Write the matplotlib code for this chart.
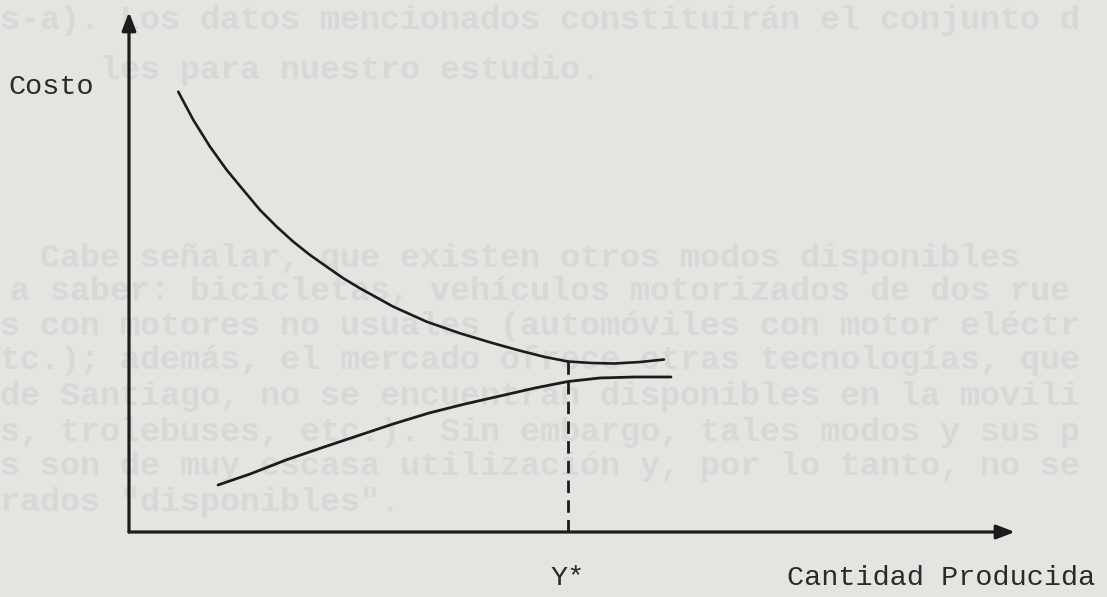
import matplotlib
matplotlib.use("Agg")
import matplotlib.pyplot as plt

# curva superior (costo medio) y curva inferior, leidas a mano
sup_x = [0.556, 0.726, 0.914, 1.103, 1.290, 1.479, 1.667, 1.854, 2.043, 2.231, 2.419,
         2.607, 2.983, 3.360, 3.736, 4.112, 4.413, 4.695, 4.955, 5.226, 5.474, 5.767, 6.038]
sup_y = [8.467, 7.923, 7.410, 6.962, 6.577, 6.192, 5.871, 5.583, 5.327, 5.102, 4.879,
         4.687, 4.333, 4.044, 3.821, 3.629, 3.487, 3.365, 3.279, 3.250, 3.240, 3.269, 3.317]

inf_x = [1.005, 1.366, 1.772, 2.167, 2.573, 2.980, 3.386, 3.792, 4.187, 4.582, 4.955,
         5.316, 5.711, 6.117]
inf_y = [0.904, 1.115, 1.385, 1.615, 1.846, 2.077, 2.288, 2.462, 2.615, 2.769, 2.894,
         2.962, 2.981, 2.981]

y_opt = 4.955         # Y*
costo_opt = 3.279     # costo en Y*

# texto del reverso de la hoja que se trasluce
reverso = [
    (0, 20, "s-a). Los datos mencionados constituirán el conjunto d"),
    (100, 70, "les para nuestro estudio."),
    (40, 258, "Cabe señalar, que existen otros modos disponibles"),
    (10, 291, "a saber: bicicletas, vehículos motorizados de dos rue"),
    (0, 326, "s con motores no usuales (automóviles con motor eléctr"),
    (0, 361, "tc.); además, el mercado ofrece otras tecnologías, que"),
    (0, 397, "de Santiago, no se encuentran disponibles en la movili"),
    (0, 432, "s, trolebuses, etc.). Sin embargo, tales modos y sus p"),
    (0, 467, "s son de muy escasa utilización y, por lo tanto, no se"),
    (0, 503, 'rados "disponibles".'),
]

tinta = "#1c1c1c"
papel = "#e3e5e1"

fig = plt.figure(figsize=(11.07, 5.97), dpi=100, facecolor=papel)
for px, py, linea in reverso:
    fig.text(px / 1107, 1 - py / 597, linea, family="Liberation Mono",
             fontsize=24, weight="bold", color="#d6d9d5", va="center", ha="left",
             zorder=-5)

ax = fig.add_axes([0, 0, 1, 1])
ax.set_facecolor("none")
ax.set_xlim(-129 / 88.6, (1107 - 129) / 88.6)
ax.set_ylim(-(597 - 532) / 52, 532 / 52)
ax.axis("off")

# ejes con flecha
flecha = dict(arrowstyle="-|>,head_length=1.1,head_width=0.42", lw=2.3,
              color=tinta, shrinkA=0, shrinkB=0)
ax.annotate("", xy=(10, 0), xytext=(0, 0), arrowprops=flecha)
ax.annotate("", xy=(0, 10), xytext=(0, 0), arrowprops=flecha)

ax.plot(sup_x, sup_y, color=tinta, lw=1.9, solid_capstyle="round", solid_joinstyle="round")
ax.plot(inf_x, inf_y, color=tinta, lw=2.0, solid_capstyle="round", solid_joinstyle="round")
ax.plot([y_opt, y_opt], [0, costo_opt], color=tinta, lw=2.0,
        linestyle=(0, (4.5, 2.6)))

fuente = dict(family="Liberation Mono", fontsize=20.5, color="#2a2a2a")
ax.text(-1.366, 8.56, "Costo", ha="left", va="center", **fuente)
ax.text(y_opt, -0.885, "Y*", ha="center", va="center", **fuente)
ax.text(7.43, -0.885, "Cantidad Producida", ha="left", va="center", **fuente)

fig.savefig("out.png", dpi=100, facecolor=papel)
plt.close(fig)
